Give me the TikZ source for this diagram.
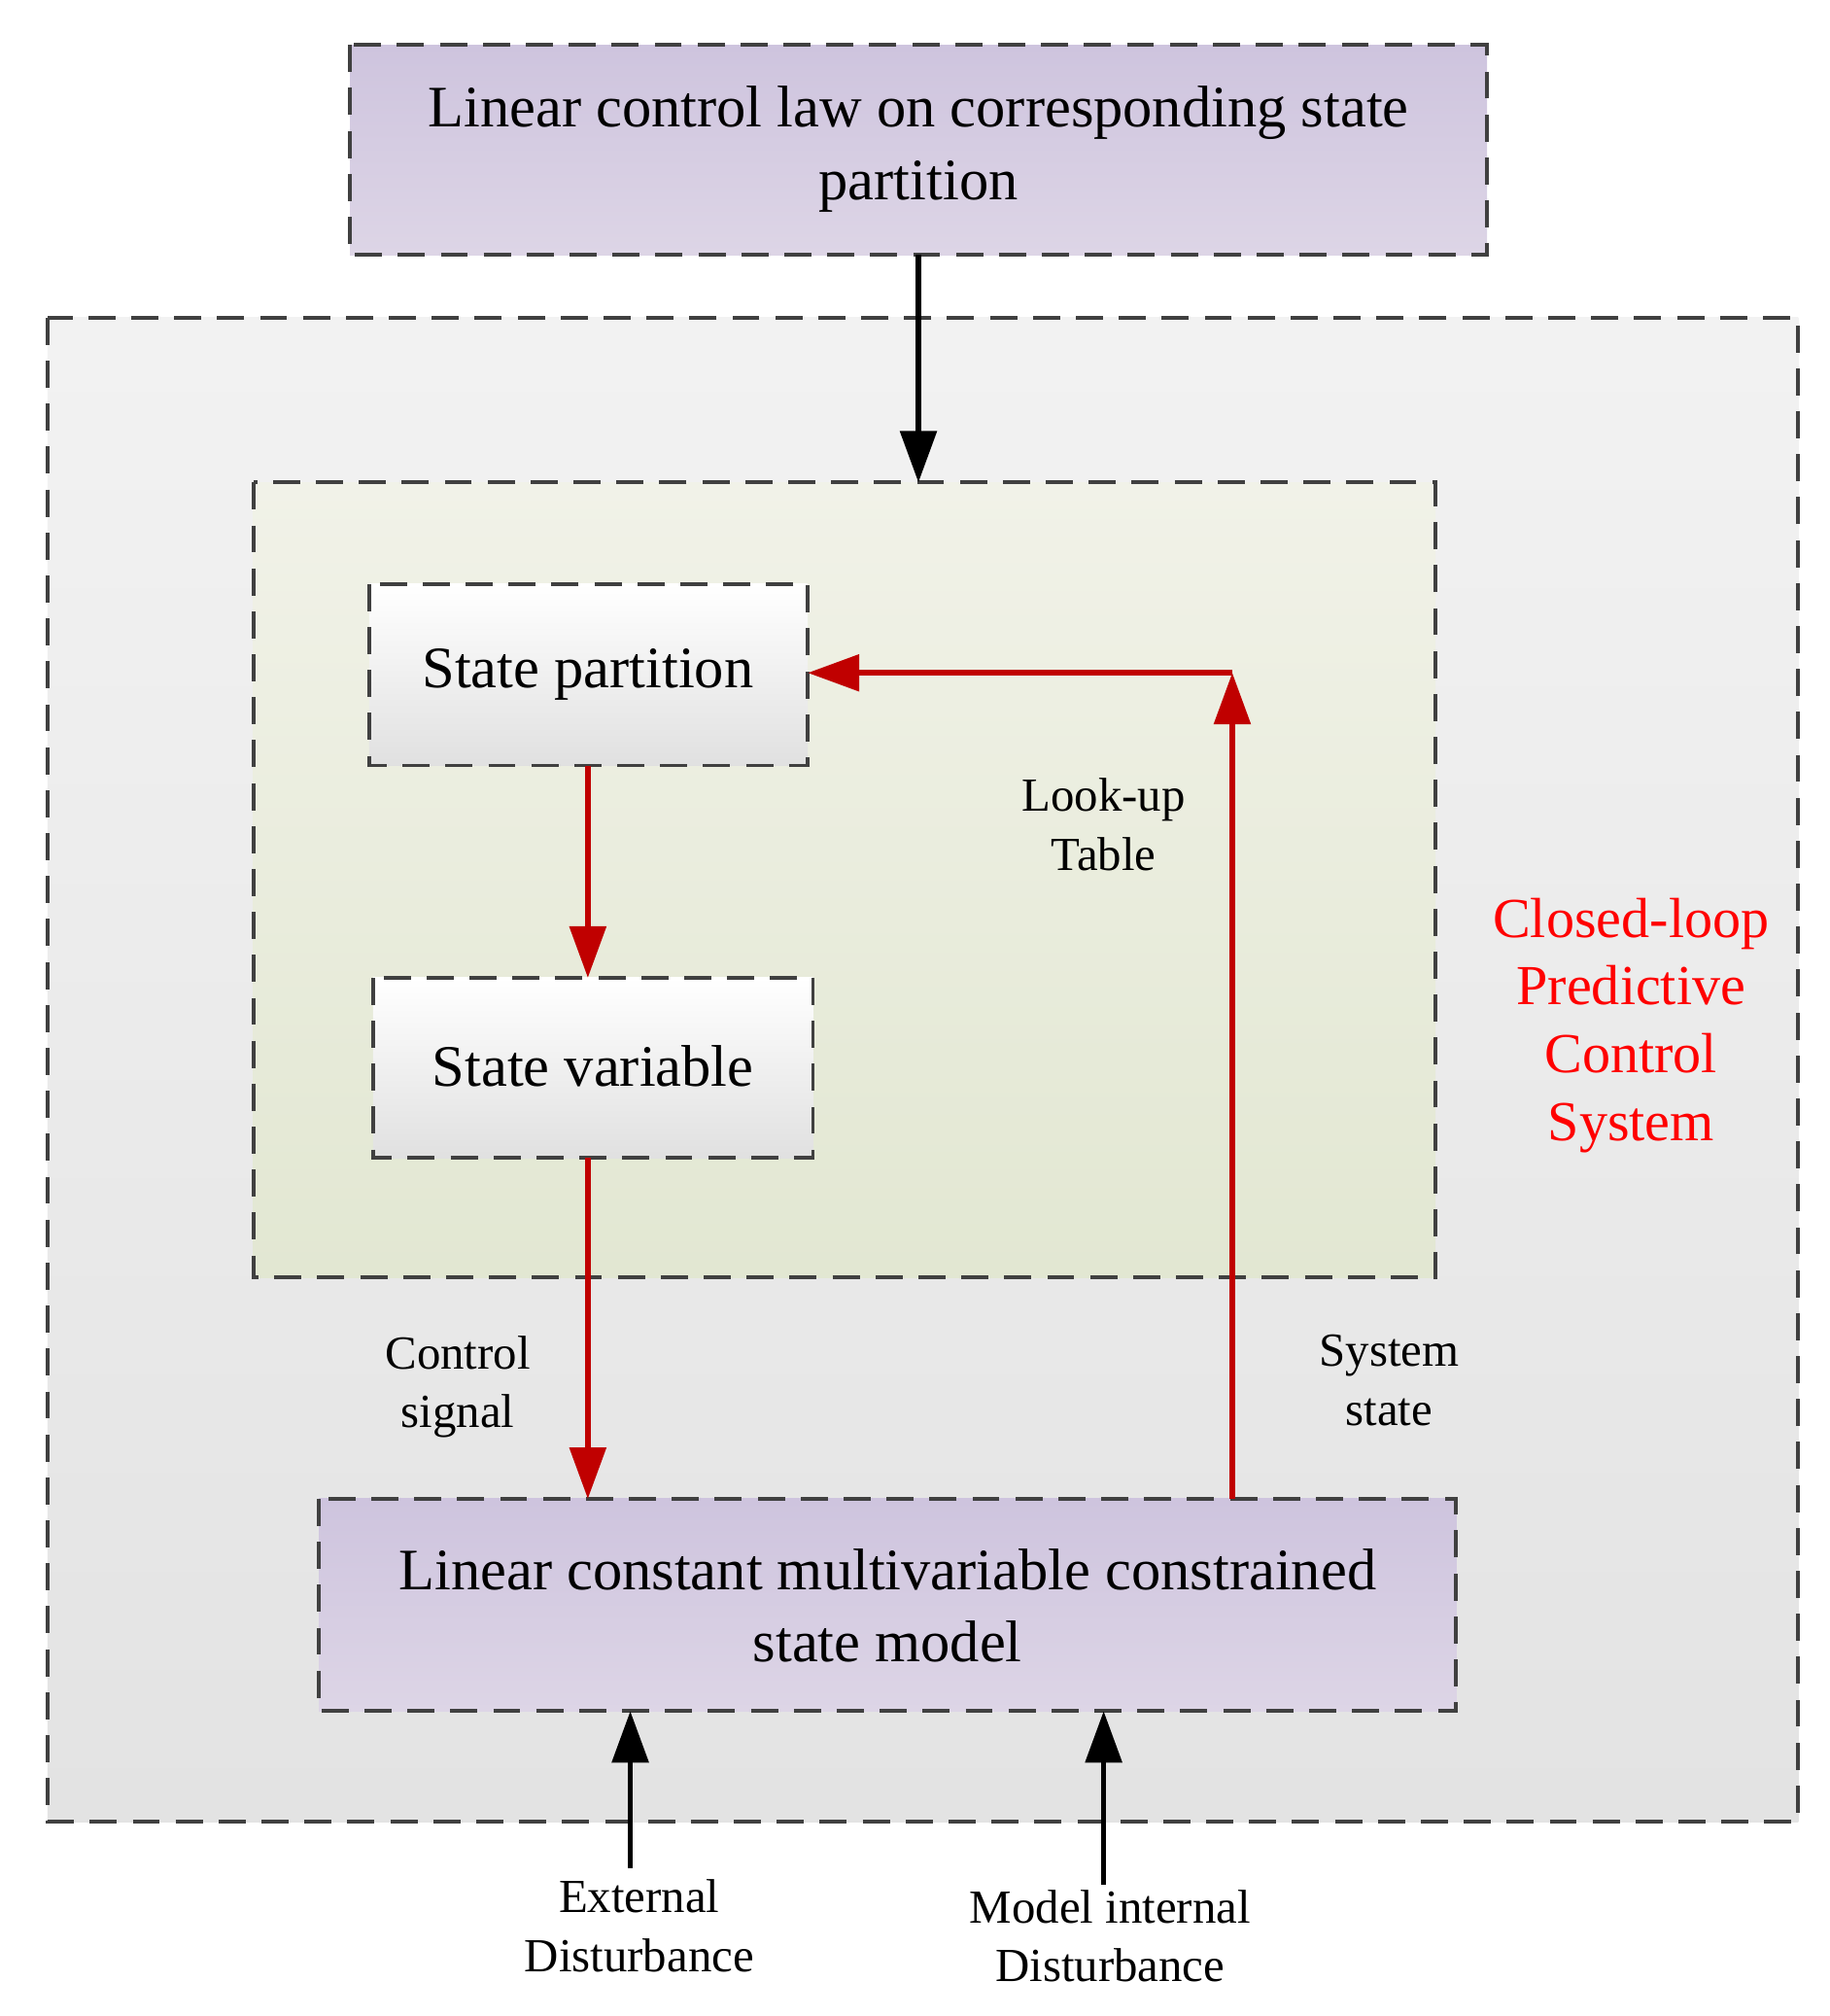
\documentclass[tikz,border=0pt]{standalone}
\usepackage{fontspec}
\setmainfont{Liberation Serif}
\usetikzlibrary{arrows.meta}
\definecolor{redc}{HTML}{C00000}
\begin{document}
\begin{tikzpicture}[x=0.02cm,y=-0.02cm,
  bx/.style={draw=black!75,line width=1.7pt,dash pattern=on 12pt off 7pt,inner sep=0pt},
  arr/.style={line width=2.4pt,-{Triangle[length=0.8cm,width=0.56cm]}},
  lab/.style={font=\fontsize{21}{26}\selectfont,align=center},
  main/.style={font=\fontsize{26}{32}\selectfont,align=center}]
\useasboundingbox (0,0) rectangle (1422,1567);
\shade[top color=black!5,bottom color=black!11] (37,247) rectangle (1398,1416);
\draw[bx] (37,247) rectangle (1398,1416);
\shade[top color={rgb,255:red,241;green,242;blue,232},bottom color={rgb,255:red,226;green,231;blue,210}] (197,375) rectangle (1116,993);
\draw[bx] (197,375) rectangle (1116,993);
\shade[top color={rgb,255:red,206;green,196;blue,222},bottom color={rgb,255:red,221;green,213;blue,230}] (272,35) rectangle (1156,198);
\draw[bx] (272,35) rectangle (1156,198);
\node[main] (top) at (714,116) {Linear control law on corresponding state\\partition};
\coordinate (topS) at (714,198);
\coordinate (grN) at (714,375);
\shade[top color=white,bottom color=black!12] (287,454) rectangle (628,595);
\draw[bx] (287,454) rectangle (628,595);
\node[main] (sp) at (457,524) {State partition};
\shade[top color=white,bottom color=black!12] (290,760) rectangle (632,900);
\draw[bx] (290,760) rectangle (632,900);
\node[main] (sv) at (461,829) {State variable};
\shade[top color={rgb,255:red,206;green,196;blue,222},bottom color={rgb,255:red,221;green,213;blue,230}] (248,1165) rectangle (1132,1330);
\draw[bx] (248,1165) rectangle (1132,1330);
\node[main] (bm) at (690,1248) {Linear constant multivariable constrained\\state model};
\coordinate (spS) at (457,595); \coordinate (svN) at (457,760);
\coordinate (svS) at (457,900); \coordinate (bmN) at (457,1165);
\coordinate (bmR) at (958,1165); \coordinate (corner) at (958,523);
\coordinate (spE) at (628,523);
\coordinate (e1) at (490,1452); \coordinate (e1t) at (490,1330);
\coordinate (e2) at (858,1465); \coordinate (e2t) at (858,1330);
\draw[arr] (topS) -- (grN);
\draw[arr,redc] (spS) -- (svN);
\draw[arr,redc] (svS) -- (bmN);
\draw[arr,redc] (bmR) -- (corner);
\draw[arr,redc] (corner) -- (spE);
\draw[arr] (e1) -- (e1t);
\draw[arr] (e2) -- (e2t);
\node[lab] (lut) at (858,641) {Look-up\\Table};
\node[lab] (cs) at (356,1078) {Control\\signal};
\node[lab] (ss) at (1080,1073) {System\\state};
\node[font=\fontsize{25}{30}\selectfont,align=center,text={rgb,255:red,255;green,0;blue,0}] (cl) at (1268,797) {Closed-loop\\Predictive\\Control\\System};
\node[lab] (ed) at (497,1497) {External\\Disturbance};
\node[lab] (md) at (863,1505) {Model internal\\Disturbance};
\end{tikzpicture}
\end{document}
